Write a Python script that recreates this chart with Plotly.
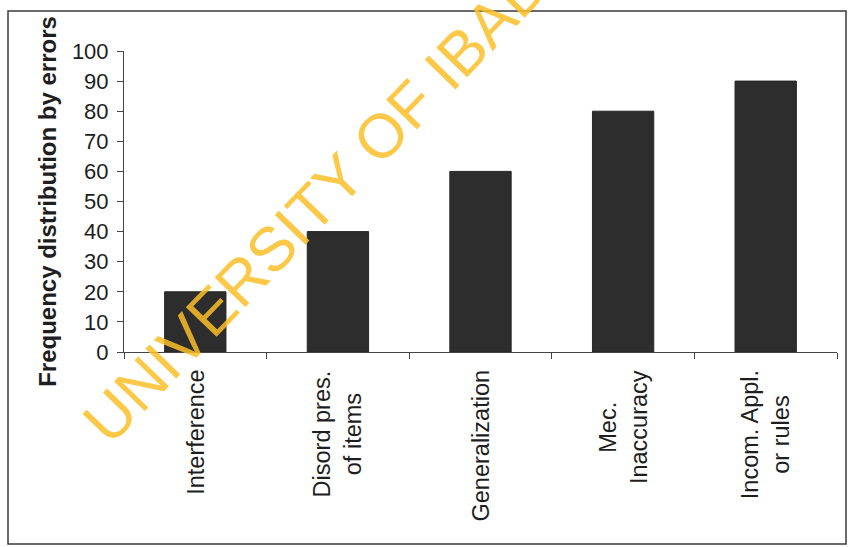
import plotly.graph_objects as go

categories = ["Interference", "Disord pres.<br>of items", "Generalization",
              "Mec.<br>Inaccuracy", "Incom. Appl.<br>or rules"]
values = [20, 40, 60, 80, 90]
y_title = "Frequency distribution by errors"
watermark = "UNIVERSITY OF IBADAN"

W, H = 848, 547
L, R, T, B = 124, 11, 51, 195
pw, ph = W - L - R, H - T - B


def px_x(px):
    return (px - L) / pw


def px_y(py):
    return (H - B - py) / ph


fig = go.Figure()
fig.add_trace(go.Bar(
    x=categories, y=values,
    marker=dict(color="#2d2d2d", line=dict(color="#262626", width=1)),
    width=0.43,
))

font_family = "Liberation Sans, Arial, sans-serif"
text_color = "#1e1e1e"

# category labels, rotated, lines centred on each other (as in the reference)
label_annotations = [
    dict(text=c, x=c, y=0, xref="x", yref="y",
         xanchor="center", yanchor="top", yshift=-16,
         textangle=-90, align="center", showarrow=False,
         font=dict(size=23.5, family=font_family, color=text_color))
    for c in categories
]

fig.update_layout(
    width=W, height=H,
    autosize=False,
    margin=dict(l=L, r=R, t=T, b=B),
    paper_bgcolor="white",
    plot_bgcolor="white",
    showlegend=False,
    font=dict(family=font_family, color=text_color),
    xaxis=dict(
        type="category",
        tickson="boundaries",
        ticks="outside", ticklen=6, tickcolor="#444", tickwidth=1,
        showline=True, linecolor="#444", linewidth=1,
        showgrid=False,
        showticklabels=False,
    ),
    yaxis=dict(
        range=[0, 100], dtick=10, tick0=0,
        ticks="outside", ticklen=6, tickcolor="#444", tickwidth=1,
        showline=True, linecolor="#444", linewidth=1,
        showgrid=False, zeroline=False,
        tickfont=dict(size=22, family=font_family, color=text_color),
        ticklabelstandoff=4,
        title=dict(text="<b>" + y_title + "</b>",
                   font=dict(size=24, family=font_family, color=text_color),
                   standoff=8),
    ),
    shapes=[dict(
        type="rect", xref="paper", yref="paper",
        x0=px_x(8), x1=px_x(846), y0=px_y(544), y1=px_y(11),
        line=dict(color="#3a3a3a", width=1.5),
        fillcolor="rgba(0,0,0,0)", layer="above",
    )],
    annotations=label_annotations + [dict(
        text=watermark, xref="paper", yref="paper",
        x=px_x(345), y=px_y(172),
        xanchor="center", yanchor="middle",
        textangle=-46, showarrow=False,
        font=dict(size=62, family=font_family, color="rgba(251,190,40,0.85)"),
    )],
)

fig.write_html("out.html")
